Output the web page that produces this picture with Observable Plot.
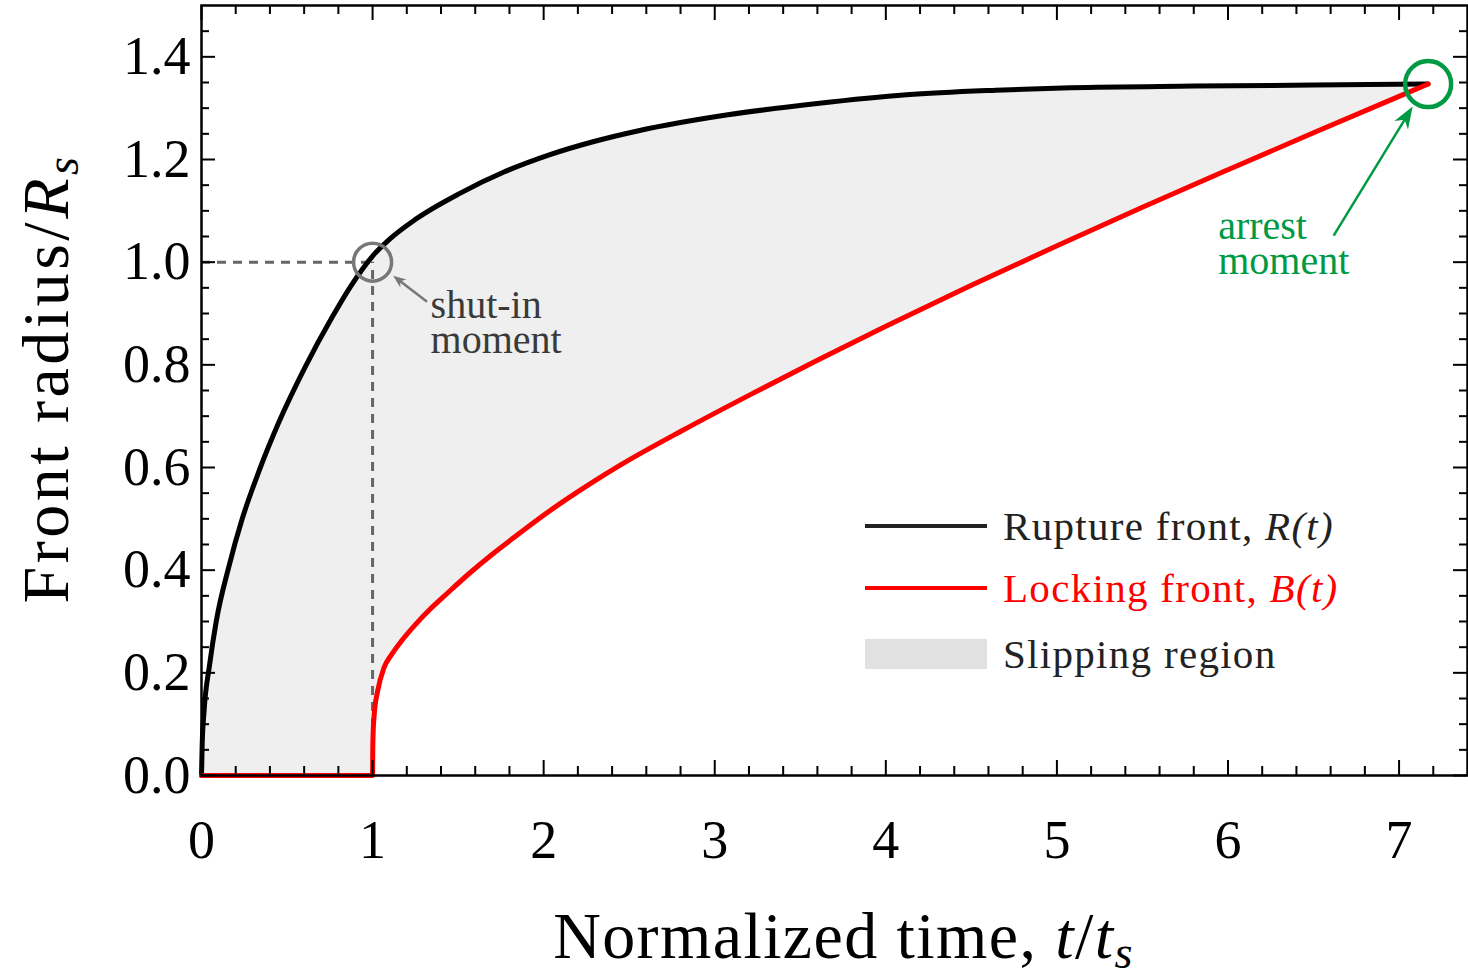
<!DOCTYPE html>
<html><head><meta charset="utf-8">
<script src="https://cdn.jsdelivr.net/npm/d3@7"></script>
<script src="https://cdn.jsdelivr.net/npm/@observablehq/plot@0.6"></script>
<style>
body{margin:0;background:#fff}
#wrap{position:relative;width:1468px;height:975px;font-family:"Liberation Serif",serif;overflow:hidden}
.leg{position:absolute;left:865px;display:flex;align-items:center;height:40px;font-size:41px;line-height:40px;letter-spacing:1.3px;color:#222;white-space:nowrap}
.leg .sw{display:inline-block;width:122px;margin-right:16px}
</style></head>
<body><div id="wrap"></div>
<script>
// ---- data ----
const ruptureT = [0, 0.004, 0.015, 0.047, 0.086, 0.16, 0.238, 0.335, 0.452, 0.608, 0.764, 0.87, 1.0, 1.1, 1.249, 1.51, 1.771, 2.033, 2.294, 2.555, 3.077, 3.599, 4.121, 4.643, 5.08, 5.8, 6.5, 7.17];
const ruptureR = [0, 0.06, 0.125, 0.215, 0.30, 0.407, 0.5, 0.592, 0.688, 0.797, 0.893, 0.952, 1.012, 1.045, 1.083, 1.134, 1.176, 1.209, 1.235, 1.256, 1.287, 1.309, 1.326, 1.335, 1.340, 1.343, 1.345, 1.347];
const lockingT = [0, 1.0, 1.001, 1.003, 1.01, 1.03, 1.067, 1.11, 1.171, 1.25, 1.327, 1.44, 1.563, 1.7, 1.824, 1.95, 2.111, 2.28, 2.45, 2.816, 3.208, 3.6, 4.0, 4.5, 5.02, 5.5, 6.0, 6.5, 7.0, 7.17];
const lockingR = [0, 0, 0.045, 0.08, 0.12, 0.165, 0.21, 0.235, 0.263, 0.294, 0.321, 0.356, 0.393, 0.431, 0.463, 0.495, 0.533, 0.570, 0.605, 0.673, 0.742, 0.809, 0.875, 0.955, 1.035, 1.107, 1.180, 1.252, 1.323, 1.347];
const shutInT = [1], shutInR = [1];
const arrestT = [7.17], arrestR = [1.347];
const xTicks = [0, 1, 2, 3, 4, 5, 6, 7];
const yTicks = [0, 0.2, 0.4, 0.6, 0.8, 1.0, 1.2, 1.4];
const xMinor = d3.range(1, 38).map(i => i / 5).filter(v => Math.abs(v - Math.round(v)) > 1e-6 && v < 7.39);
const yMinor = d3.range(1, 30).map(i => i / 20).filter(v => Math.abs(v * 5 - Math.round(v * 5)) > 1e-6);

const rupture = ruptureT.map((t, i) => ({t, r: ruptureR[i]}));
const locking = lockingT.map((t, i) => ({t, r: lockingR[i]}));
const slip = rupture.concat(locking.slice().reverse());
const shutIn = shutInT.map((t, i) => ({t, r: shutInR[i], label: "shut-in\nmoment"}));
const arrest = arrestT.map((t, i) => ({t, r: arrestR[i], label: "arrest\nmoment"}));

const W = 1468, H = 975, mL = 201, mR = 1, mT = 5, mB = 200;
const fw = W - mL - mR, fh = H - mT - mB;
const GREEN = "#009a44", GRAY = "#777";

function arrowMark(pts, tailOff, tipOff, color, headLen, headW, sw) {
  return (index, scales) => {
    const g = d3.create("svg:g");
    pts.forEach(p => {
      const cx = scales.x(p.t), cy = scales.y(p.r);
      const x1 = cx + tailOff[0], y1 = cy + tailOff[1];
      const x2 = cx + tipOff[0], y2 = cy + tipOff[1];
      const dx = x2 - x1, dy = y2 - y1, L = Math.hypot(dx, dy);
      const ux = dx / L, uy = dy / L, nx = -uy, ny = ux;
      const bx = x2 - ux * headLen, by = y2 - uy * headLen;
      g.append("line").attr("x1", x1).attr("y1", y1)
        .attr("x2", x2 - ux * headLen * 0.6).attr("y2", y2 - uy * headLen * 0.6)
        .attr("stroke", color).attr("stroke-width", sw);
      const nxp = x2 - ux * headLen * 0.7, nyp = y2 - uy * headLen * 0.7;
      g.append("path").attr("fill", color)
        .attr("d", `M${x2},${y2}L${bx + nx * headW / 2},${by + ny * headW / 2}L${nxp},${nyp}L${bx - nx * headW / 2},${by - ny * headW / 2}Z`);
    });
    return g.node();
  };
}

const plot = Plot.plot({
  width: W, height: H,
  marginLeft: mL, marginRight: mR, marginTop: mT, marginBottom: mB,
  x: {domain: [0, 7.4], label: null},
  y: {domain: [0, 1.5], label: null},
  style: {fontFamily: "Liberation Serif, serif", background: "white", color: "black", overflow: "visible"},
  marks: [
    Plot.line(slip, {x: "t", y: "r", fill: "#efefef", stroke: "none"}),
    Plot.ruleY(shutIn, {y: "r", x1: 0, x2: "t", stroke: "#666", strokeWidth: 3, strokeDasharray: "9,7"}),
    Plot.ruleX(shutIn, {x: "t", y1: 0, y2: "r", stroke: "#666", strokeWidth: 3, strokeDasharray: "9,7"}),
    Plot.line(rupture, {x: "t", y: "r", stroke: "black", strokeWidth: 5, curve: "monotone-x"}),
    Plot.line(locking, {x: "t", y: "r", stroke: "#ff0000", strokeWidth: 5, curve: "monotone-x"}),
    Plot.dot(shutIn, {x: "t", y: "r", r: 19, stroke: GRAY, strokeWidth: 3.5, fill: "none"}),
    Plot.dot(arrest, {x: "t", y: "r", r: 23, stroke: GREEN, strokeWidth: 4.5, fill: "none"}),
    arrowMark(shutIn, [55, 40], [21, 14], GRAY, 13, 10, 2.5),
    arrowMark(arrest, [-94, 152], [-15, 23], GREEN, 22, 16, 2.5),
    Plot.text(shutIn, {x: "t", y: "r", text: "label", dx: 58, dy: 31, textAnchor: "start", lineAnchor: "top", fontSize: 40, lineHeight: 0.88, fill: "#3a3a3a"}),
    Plot.text(arrest, {x: "t", y: "r", text: "label", dx: -210, dy: 130, textAnchor: "start", lineAnchor: "top", fontSize: 40, lineHeight: 0.88, fill: GREEN}),
    // inward ticks
    Plot.tickX(xTicks, {x: d => d, insetTop: fh - 15, stroke: "black", strokeWidth: 2}),
    Plot.tickX(xMinor, {x: d => d, insetTop: fh - 9, stroke: "black", strokeWidth: 2}),
    Plot.tickX(xTicks, {x: d => d, insetBottom: fh - 15, stroke: "black", strokeWidth: 2}),
    Plot.tickX(xMinor, {x: d => d, insetBottom: fh - 9, stroke: "black", strokeWidth: 2}),
    Plot.tickY(yTicks, {y: d => d, insetRight: fw - 14, stroke: "black", strokeWidth: 2}),
    Plot.tickY(yMinor, {y: d => d, insetRight: fw - 8, stroke: "black", strokeWidth: 2}),
    Plot.tickY(yTicks, {y: d => d, insetLeft: fw - 14, stroke: "black", strokeWidth: 2}),
    Plot.tickY(yMinor, {y: d => d, insetLeft: fw - 8, stroke: "black", strokeWidth: 2}),
    Plot.frame({stroke: "black", strokeWidth: 2.5}),
    Plot.axisX(xTicks, {tickSize: 0, tickPadding: 44, fontSize: 54, tickFormat: d3.format("d"), label: null}),
    Plot.axisY(yTicks, {tickSize: 0, tickPadding: 11, fontSize: 54, tickFormat: d3.format(".1f"), label: null}),
    Plot.text(["Normalized time, t/ts"], {frameAnchor: "bottom", textAnchor: "middle", dx: 9, dy: 161, fontSize: 66, lineAnchor: "middle"}),
    Plot.text(["Front radius/Rs"], {frameAnchor: "left", textAnchor: "middle", rotate: -90, dx: -155, dy: -12, fontSize: 66, lineAnchor: "middle"})
  ]
});

// rich text (italics / subscripts)
const NS = "http://www.w3.org/2000/svg";
function richify(plain, parts, ls) {
  plot.querySelectorAll("text").forEach(t => {
    if (t.textContent === plain) {
      t.textContent = "";
      if (ls) t.setAttribute("letter-spacing", ls);
      parts.forEach(p => {
        const s = document.createElementNS(NS, "tspan");
        s.textContent = p.s;
        if (p.i) s.setAttribute("font-style", "italic");
        if (p.sub) { s.setAttribute("font-size", "0.7em"); s.setAttribute("dy", "0.22em"); }
        t.appendChild(s);
      });
    }
  });
}
richify("Normalized time, t/ts", [{s: "Normalized time, "}, {s: "t", i: 1}, {s: "/"}, {s: "t", i: 1}, {s: "s", i: 1, sub: 1}], "1.4px");
richify("Front radius/Rs", [{s: "Front radius/"}, {s: "R", i: 1}, {s: "s", i: 1, sub: 1}], "3.5px");

const wrap = document.getElementById("wrap");
wrap.appendChild(plot);

// legend (HTML)
const legendRows = [
  {top: 506, html: 'Rupture front, <i>R(t)</i>', color: "#222", sw: {h: 4, bg: "#222"}},
  {top: 568, html: 'Locking front, <i>B(t)</i>', color: "#ff0000", sw: {h: 4, bg: "#ff0000"}},
  {top: 634, html: 'Slipping region', color: "#222", sw: {h: 30, bg: "#e1e1e1"}}
];
legendRows.forEach(r => {
  const d = document.createElement("div");
  d.className = "leg";
  d.style.top = r.top + "px";
  d.style.color = r.color;
  d.innerHTML = `<span class="sw" style="height:${r.sw.h}px;background:${r.sw.bg}"></span><span>${r.html}</span>`;
  wrap.appendChild(d);
});
</script>
</body></html>
